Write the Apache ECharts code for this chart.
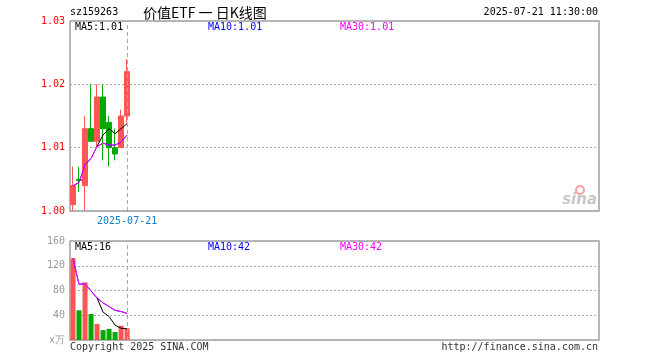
<!DOCTYPE html>
<html><head><meta charset="utf-8">
<script src="https://cdn.jsdelivr.net/npm/echarts@6/dist/echarts.min.js"></script>
<style>html,body{margin:0;padding:0;background:#fff}#c{width:660px;height:360px}</style>
</head><body><div id="c"></div>
<script>
// ---- data ----
var dates = ['2025-07-08','2025-07-09','2025-07-10','2025-07-11','2025-07-14','2025-07-15','2025-07-16','2025-07-17','2025-07-18','2025-07-21'];
var openP  = [1.001, 1.005, 1.004, 1.013, 1.011, 1.018, 1.014, 1.010, 1.010, 1.015];
var closeP = [1.004, 1.0048, 1.013, 1.011, 1.018, 1.013, 1.010, 1.009, 1.015, 1.022];
var lowP   = [1.000, 1.003, 1.000, 1.011, 1.010, 1.008, 1.007, 1.008, 1.010, 1.014];
var highP  = [1.007, 1.007, 1.015, 1.020, 1.020, 1.020, 1.015, 1.013, 1.016, 1.024];
var ma5    = ['-','-','-','-',1.0102,1.0120,1.0130,1.0122,1.0130,1.0138];
var ma10   = [1.0040,1.0045,1.0073,1.0083,1.0102,1.0107,1.0104,1.0104,1.0109,1.0120];
var ma30   = [1.0040,1.0045,1.0073,1.0083,1.0102,1.0107,1.0104,1.0104,1.0109,1.0120];
var volume = [132, 48, 93, 42, 26, 16, 18, 13, 23, 19];
var volMa5  = ['-','-','-','-',68,45,38,24,19,18];
var volMa10 = [132,90,91,79,68,60,54,48,46,43];
var volMa30 = [132,90,91,79,68,60,54,48,46,43];
var priceTicks = [1.00, 1.01, 1.02, 1.03];
var volTicks = [0, 40, 80, 120, 160];
var slotCount = 88;
var stockCode = 'sz159263';
var titleText = '价值ETF 一 日K线图';
var timeText = '2025-07-21 11:30:00';
var mainLegend = ['MA5:1.01','MA10:1.01','MA30:1.01'];
var volLegend = ['MA5:16','MA10:42','MA30:42'];

// ---- build ----
var cats = dates.slice();
while (cats.length < slotCount) cats.push('');
var UP = '#ff5555', DOWN = '#00aa00';
var kData = dates.map(function(d,i){ return [openP[i], closeP[i], lowP[i], highP[i]]; });
var volData = volume.map(function(v,i){
  return {value: v, itemStyle: {color: closeP[i] >= openP[i] ? UP : DOWN}};
});
var MONO = '"DejaVu Sans Mono", "Liberation Mono", monospace';
var L = 70, R = 599;
var chart = echarts.init(document.getElementById('c'), null, {renderer:'canvas'});
var dashLine = {
  symbol: 'none', silent: true, animation: false,
  label: {show:false},
  lineStyle: {color:'#aaaaaa', type:[4,3], width:1},
  data: [{xAxis: dates[dates.length-1]}]
};
function gtext(x,y,t,color,extra){
  var s = {text:t, fill:color, font:'10px '+MONO, textVerticalAlign:'middle'};
  if (extra) for (var k in extra) s[k]=extra[k];
  return {type:'text', x:x, y:y, style:s, z:100};
}
chart.setOption({
  animation:false,
  grid:[
    {left:L, right:660-R, top:21, height:190, show:true, borderColor:'#a0a0a0', borderWidth:1.5, backgroundColor:'transparent'},
    {left:L, right:660-R, top:241, height:99, show:true, borderColor:'#a0a0a0', borderWidth:1.5, backgroundColor:'transparent'}
  ],
  xAxis:[
    {type:'category', gridIndex:0, data:cats, boundaryGap:true,
     axisLine:{show:false}, axisTick:{show:false}, splitLine:{show:false},
     axisLabel:{show:true, margin:5, color:'#0a7fd0', fontFamily:MONO, fontSize:10,
       interval:function(i){ return i === dates.length-1; }}},
    {type:'category', gridIndex:1, data:cats, boundaryGap:true,
     axisLine:{show:false}, axisTick:{show:false}, splitLine:{show:false}, axisLabel:{show:false}}
  ],
  yAxis:[
    {type:'value', gridIndex:0, min:priceTicks[0], max:priceTicks[priceTicks.length-1], interval:0.01,
     axisLine:{show:false}, axisTick:{show:false},
     axisLabel:{color:'#ff0000', fontFamily:MONO, fontSize:10, margin:5, formatter:function(v){return v.toFixed(2);}},
     splitLine:{show:true, lineStyle:{color:'#aaaaaa', type:[2,2], width:1}}},
    {type:'value', gridIndex:1, min:volTicks[0], max:volTicks[volTicks.length-1], interval:40,
     axisLine:{show:false}, axisTick:{show:false},
     axisLabel:{color:'#999999', fontFamily:MONO, fontSize:10, margin:5,
       formatter:function(v){ return v===0 ? 'x万' : String(v); }},
     splitLine:{show:true, lineStyle:{color:'#aaaaaa', type:[2,2], width:1}}}
  ],
  series:[
    {type:'candlestick', xAxisIndex:0, yAxisIndex:0, data:kData, barWidth:5,
     itemStyle:{color:UP, color0:DOWN, borderColor:UP, borderColor0:DOWN, borderWidth:1},
     markLine:dashLine},
    {type:'line', xAxisIndex:0, yAxisIndex:0, data:ma10, showSymbol:false, lineStyle:{color:'#0000ff', width:1}},
    {type:'line', xAxisIndex:0, yAxisIndex:0, data:ma30, showSymbol:false, lineStyle:{color:'#ff00ff', width:1}},
    {type:'line', xAxisIndex:0, yAxisIndex:0, data:ma5, showSymbol:false, lineStyle:{color:'#000000', width:1}},
    {type:'bar', xAxisIndex:1, yAxisIndex:1, data:volData, barWidth:5, markLine:dashLine},
    {type:'line', xAxisIndex:1, yAxisIndex:1, data:volMa10, showSymbol:false, lineStyle:{color:'#0000ff', width:1}},
    {type:'line', xAxisIndex:1, yAxisIndex:1, data:volMa30, showSymbol:false, lineStyle:{color:'#ff00ff', width:1}},
    {type:'line', xAxisIndex:1, yAxisIndex:1, data:volMa5, showSymbol:false, lineStyle:{color:'#000000', width:1}}
  ],
  graphic:[
    gtext(70,12,stockCode,'#000'),
    {type:'text', x:143, y:13, z:100, style:{text:titleText, fill:'#000', font:'14px "Noto Sans CJK SC"', textVerticalAlign:'middle'}},
    gtext(598,12,timeText,'#000',{textAlign:'right'}),
    gtext(75,27,mainLegend[0],'#000'),
    gtext(208,27,mainLegend[1],'#0000ff'),
    gtext(340,27,mainLegend[2],'#ff00ff'),
    gtext(75,247,volLegend[0],'#000'),
    gtext(208,247,volLegend[1],'#0000ff'),
    gtext(340,247,volLegend[2],'#ff00ff'),
    gtext(70,347,'Copyright 2025 SINA.COM','#333'),
    gtext(598,347,'http://finance.sina.com.cn','#333',{textAlign:'right'}),
    {type:'text', x:597, y:200, z:5, style:{text:'sina', fill:'#c8c8c8', font:'italic bold 15px "DejaVu Sans"', textAlign:'right', textVerticalAlign:'middle'}},
    {type:'circle', shape:{cx:580, cy:190, r:4}, style:{fill:'none', stroke:'#f4a0a0', lineWidth:2}, z:5}
  ]
});
</script></body></html>
